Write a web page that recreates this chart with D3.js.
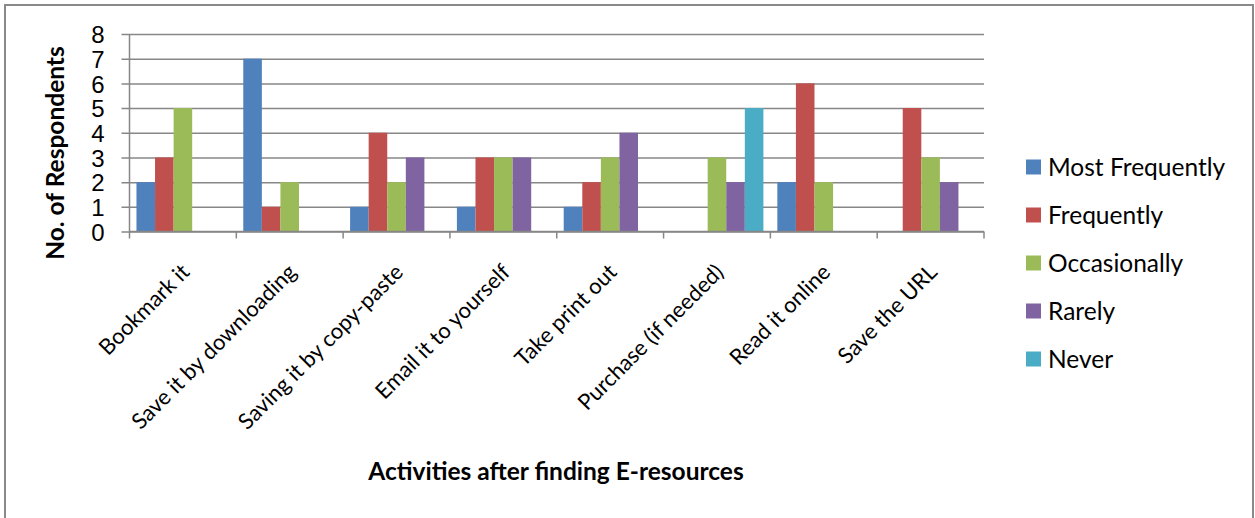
<!DOCTYPE html>
<html>
<head>
<meta charset="utf-8">
<script src="https://cdn.jsdelivr.net/npm/d3@7"></script>
<style>
  html, body { margin: 0; padding: 0; background: #fff; }
  svg { display: block; font-family: Lato, "Open Sans", sans-serif; }
</style>
</head>
<body>
<svg id="chart" width="1255" height="518"></svg>
<script>
// Activities respondents carry out after finding e-resources
const categories = [
  "Bookmark it",
  "Save it by downloading",
  "Saving it by copy-paste",
  "Email it to yourself",
  "Take print out",
  "Purchase (if needed)",
  "Read it online",
  "Save the URL"
];
const seriesNames = ["Most Frequently", "Frequently", "Occasionally", "Rarely", "Never"];
const mostFrequently = [2, 7, 1, 1, 1, 0, 2, 0];
const frequently     = [3, 1, 4, 3, 2, 0, 6, 5];
const occasionally   = [5, 2, 2, 3, 3, 3, 2, 3];
const rarely         = [0, 0, 3, 3, 4, 2, 0, 2];
const never          = [0, 0, 0, 0, 0, 5, 0, 0];
const yTicks = [0, 1, 2, 3, 4, 5, 6, 7, 8];
const colors = ["#4F81BD", "#C0504D", "#9BBB59", "#8064A2", "#4BACC6"];

const seriesValues = [mostFrequently, frequently, occasionally, rarely, never];

const svg = d3.select("#chart");
const plot = { left: 129.5, right: 984, top: 34, bottom: 231.5 };
const axisColor = "#878787";

// Outer chart frame
svg.append("rect")
  .attr("x", 5).attr("y", 5)
  .attr("width", 1248).attr("height", 530)
  .attr("fill", "#fff")
  .attr("stroke", "#898989")
  .attr("stroke-width", 2);

const x0 = d3.scaleBand().domain(categories).range([plot.left, plot.right]).paddingInner(0).paddingOuter(0);
// Clustered bars with a 150% gap between groups
const x1 = d3.scaleBand().domain(seriesNames).range([0, x0.bandwidth()]).paddingOuter(0.375).paddingInner(0);
const y = d3.scaleLinear().domain([0, 8]).range([plot.bottom, plot.top]);

// Horizontal gridlines with outward ticks
const yAxis = d3.axisLeft(y)
  .tickValues(yTicks)
  .tickSize(plot.right - plot.left + 8)
  .tickPadding(17)
  .tickFormat(d3.format("d"));

const gy = svg.append("g")
  .attr("transform", `translate(${plot.right},0)`)
  .call(yAxis);
gy.select(".domain").remove();
gy.selectAll(".tick line").attr("stroke", axisColor).attr("stroke-width", 1.5);
gy.selectAll(".tick text")
  .attr("fill", "#000")
  .style("font-size", "24px")
  .attr("dy", "0.36em");

// Vertical value axis line
svg.append("line")
  .attr("x1", plot.left).attr("x2", plot.left)
  .attr("y1", plot.top).attr("y2", plot.bottom)
  .attr("stroke", axisColor).attr("stroke-width", 1.5);

// Bars
const groups = svg.append("g").selectAll("g")
  .data(categories)
  .join("g")
  .attr("transform", d => `translate(${x0(d)},0)`);

groups.selectAll("rect")
  .data((c, i) => seriesNames.map((s, k) => ({ s, v: seriesValues[k][i], k })))
  .join("rect")
  .attr("x", d => x1(d.s))
  .attr("y", d => y(d.v))
  .attr("width", x1.bandwidth())
  .attr("height", d => y(0) - y(d.v))
  .attr("fill", d => colors[d.k]);

// Category axis with boundary ticks
const boundaries = categories.map(c => x0(c)).concat([plot.right]);
svg.append("line")
  .attr("x1", plot.left).attr("x2", plot.right)
  .attr("y1", plot.bottom).attr("y2", plot.bottom)
  .attr("stroke", axisColor).attr("stroke-width", 1.5);
svg.append("g").selectAll("line")
  .data(boundaries)
  .join("line")
  .attr("x1", d => d).attr("x2", d => d)
  .attr("y1", plot.bottom).attr("y2", plot.bottom + 7)
  .attr("stroke", axisColor).attr("stroke-width", 1.5);

// Rotated category labels
svg.append("g").selectAll("text")
  .data(categories)
  .join("text")
  .attr("transform", d => `translate(${x0(d) + x0.bandwidth() / 2 + 8},${plot.bottom + 42}) rotate(-45)`)
  .attr("text-anchor", "end")
  .style("font-size", "22px")
  .attr("fill", "#000")
  .text(d => d);

// Axis titles
svg.append("text")
  .attr("transform", "translate(64,153) rotate(-90)")
  .attr("text-anchor", "middle")
  .style("font-size", "24.5px")
  .style("font-weight", "bold")
  .text("No. of Respondents");

svg.append("text")
  .attr("x", 556).attr("y", 480)
  .attr("text-anchor", "middle")
  .style("font-size", "24.5px")
  .style("font-weight", "bold")
  .text("Activities after finding E-resources");

// Legend
const legend = svg.append("g").selectAll("g")
  .data(seriesNames)
  .join("g")
  .attr("transform", (d, i) => `translate(1026,${167 + i * 48})`);
legend.append("rect")
  .attr("x", 0).attr("y", -7.5)
  .attr("width", 15).attr("height", 15)
  .attr("fill", (d, i) => colors[i]);
legend.append("text")
  .attr("x", 22).attr("y", 0)
  .attr("dy", "0.35em")
  .style("font-size", "24.5px")
  .text(d => d);
</script>
</body>
</html>
